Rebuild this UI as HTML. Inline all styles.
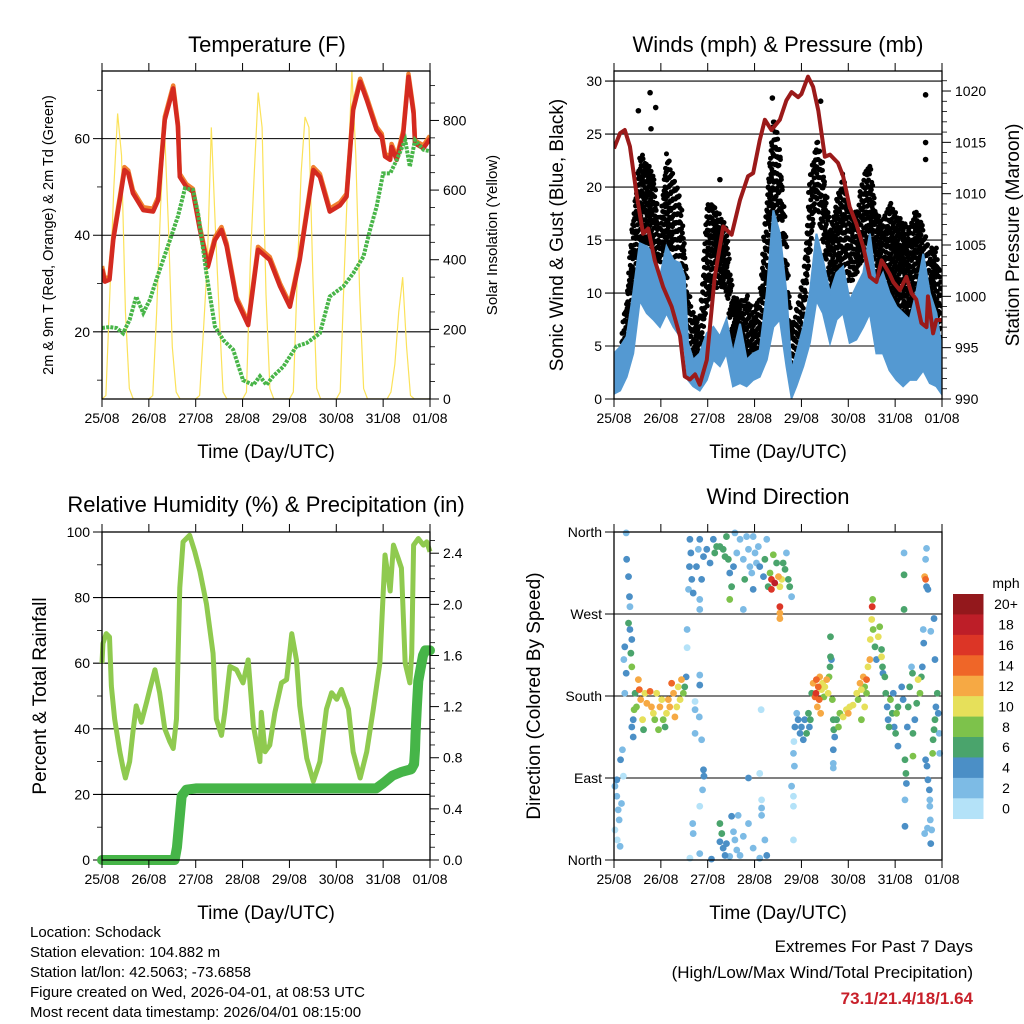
<!DOCTYPE html>
<html><head><meta charset="utf-8">
<style>
html,body{margin:0;padding:0;background:#fff;}
svg{display:block;font-family:"Liberation Sans",Arial,sans-serif;}
</style></head>
<body>
<svg id="chart" width="1024" height="1024" viewBox="0 0 1024 1024" xmlns="http://www.w3.org/2000/svg">
<rect x="0" y="0" width="1024" height="1024" fill="#fff"/>
<g id="layer"></g>
<text x="267" y="52" font-size="22" text-anchor="middle">Temperature (F)</text>
<text x="778" y="52" font-size="22" text-anchor="middle">Winds (mph) &amp; Pressure (mb)</text>
<text x="266" y="512" font-size="22" text-anchor="middle">Relative Humidity (%) &amp; Precipitation (in)</text>
<text x="778" y="504" font-size="22" text-anchor="middle">Wind Direction</text>
<text x="266" y="458" font-size="19" text-anchor="middle">Time (Day/UTC)</text>
<text x="778" y="458" font-size="19" text-anchor="middle">Time (Day/UTC)</text>
<text x="266" y="919" font-size="19" text-anchor="middle">Time (Day/UTC)</text>
<text x="778" y="919" font-size="19" text-anchor="middle">Time (Day/UTC)</text>
<text transform="translate(53,235) rotate(-90)" font-size="14.5" text-anchor="middle">2m &amp; 9m T (Red, Orange) &amp; 2m Td (Green)</text>
<text transform="translate(497,235) rotate(-90)" font-size="15" text-anchor="middle">Solar Insolation (Yellow)</text>
<text transform="translate(563,235) rotate(-90)" font-size="19" text-anchor="middle">Sonic Wind &amp; Gust (Blue, Black)</text>
<text transform="translate(1019,235) rotate(-90)" font-size="19" text-anchor="middle">Station Pressure (Maroon)</text>
<text transform="translate(46,696) rotate(-90)" font-size="19" text-anchor="middle">Percent &amp; Total Rainfall</text>
<text transform="translate(540,696) rotate(-90)" font-size="19" text-anchor="middle">Direction (Colored By Speed)</text>
<g font-size="15">
<text x="30" y="937">Location: Schodack</text>
<text x="30" y="957">Station elevation: 104.882 m</text>
<text x="30" y="977">Station lat/lon: 42.5063; -73.6858</text>
<text x="30" y="997">Figure created on Wed, 2026-04-01, at 08:53 UTC</text>
<text x="30" y="1017">Most recent data timestamp: 2026/04/01 08:15:00</text>
</g>
<g font-size="17" text-anchor="end">
<text x="973" y="952">Extremes For Past 7 Days</text>
<text x="973" y="978">(High/Low/Max Wind/Total Precipitation)</text>
<text x="973" y="1004" fill="#c8202a" font-weight="bold">73.1/21.4/18/1.64</text>
</g>
</svg>
<script>
// ---------- data ----------
const dayLabels = ["25/08","26/08","27/08","28/08","29/08","30/08","31/08","01/08"];
const tempT = [0,.06,.16,.24,.38,.48,.56,.66,.88,1.09,1.20,1.34,1.52,1.62,1.66,1.80,1.94,2.09,2.26,2.41,2.55,2.66,2.87,3.12,3.33,3.58,3.80,4.01,4.22,4.51,4.65,4.86,5.08,5.22,5.36,5.51,5.65,5.86,5.97,6.04,6.15,6.18,6.29,6.43,6.54,6.65,6.68,6.86,7.0];
const tempV = [33,30.4,30.8,39,47.3,53.5,52.8,48.7,45.2,44.9,47.3,63.9,70.4,62.5,52.1,50,49,41.1,33.5,39,41.1,37.7,26.6,21.4,37,34.9,29.4,25.2,34.9,53.5,52.1,44.9,46.2,48,65.9,71.8,68,61.8,60.4,56.3,55.6,58.3,55.6,61.1,72.8,65.2,59,58,60];
const dewT = [0,.16,.31,.45,.59,.73,.88,1.02,1.16,1.45,1.62,1.77,1.94,2.05,2.23,2.41,2.59,2.80,3.01,3.23,3.37,3.51,3.65,3.87,4.15,4.37,4.65,4.86,5.15,5.36,5.58,5.72,5.86,6.00,6.15,6.29,6.47,6.57,6.68,6.86,7];
const dewV = [20.8,21,20.8,19.7,22.5,27.3,23.9,26.6,30.8,39,43.9,49.7,49.4,44.6,32,21.1,18.3,16.3,10,9,10.8,9,10.8,12.8,17,17.7,19.7,27.3,29.4,32.1,35.6,41.1,45.9,52.8,52.8,55.6,59.7,54.2,59.7,57.7,57.4];
const solarV = [
0,10,300,600,820,700,250,30,0,0,0,0,
0,10,250,550,780,500,150,20,0,0,0,0,
0,10,200,400,780,500,250,20,0,0,0,0,
0,20,400,650,880,780,300,30,0,0,0,0,
0,20,350,650,810,780,350,30,0,0,0,0,
0,20,350,650,940,700,300,30,0,0,0,0,
0,0,20,100,250,350,150,10,0,0,0,0,0];
const windT = [0,.13,.27,.41,.55,.70,.84,.98,1.12,1.27,1.41,1.51,1.58,1.69,1.83,1.98,2.12,2.26,2.40,2.54,2.69,2.83,2.97,3.11,3.26,3.40,3.54,3.68,3.79,3.89,4.04,4.18,4.32,4.46,4.61,4.75,4.89,5.03,5.17,5.32,5.46,5.60,5.74,5.88,6.03,6.17,6.31,6.45,6.60,6.74,6.88,6.99];
const windHi = [4.3,4.9,5.9,10,14.7,14.4,13.7,11.5,14.4,13.1,12.8,11.5,5.3,3.7,4.3,6.2,6.8,5.9,7.5,4.3,7.1,3.7,4.3,4.6,10,17.8,15.6,10,2.7,4.3,6.8,10,15.6,13.1,10,11.9,12.5,9.3,10.6,11.9,15.6,10.6,11.9,10,8.7,8.1,7.5,10,13.7,10,8.1,4.9];
const windLo = [0.5,0.8,2.1,4.3,9.3,8.1,7.5,6.8,8.1,6.8,5.9,4.6,1.8,1.2,0.8,1.8,3.7,3.1,4.3,1.2,1.5,1.2,1.8,2.1,3.7,6.8,7.5,3.1,0.1,1.2,3.1,5.3,9.3,8.1,5.3,7.5,8.1,5.3,5.6,6.8,8.1,4.3,4.3,2.7,1.8,1.2,1.8,1.8,2.7,1.5,1.2,0.5];
const gustHi = [4,4.9,10,17.8,23.5,22.5,21.6,16.3,23.5,21.3,19.4,14.7,10.6,8.4,7.5,18.5,18.5,17.5,16.3,10,9.3,10,8.4,10,19.4,26.9,24.1,14.7,6.8,8.4,11.5,21,24.7,22.5,16.3,18.8,21.6,17.8,17.8,21,22.5,17.8,16.9,18.8,17.5,16.9,16.3,18.1,16.3,14.4,14.4,11.5];
const gustLo = [0.5,1.8,3.7,8.4,13.1,14.7,13.7,12.5,14.4,13.7,11.5,10,5.3,3.7,3.1,8.4,10,10.6,10,4.6,4.3,3.7,3.1,4.3,10,17.8,16.3,8.4,2.1,4.3,6.8,13.1,18.5,14.7,10,11.5,12.5,10.6,11.5,13.1,13.7,10,9.3,8.4,7.5,6.2,6.2,6.8,8.1,6.2,5.6,4.3];
const gustOutT = [.52,.77,.89,.79,6.65,6.65,6.65,2.26,3.38,4.41];
const gustOutV = [27.2,28.9,27.5,25.5,28.7,24.2,22.6,20.7,28.4,28.1];
const presT = [0,.13,.23,.34,.48,.62,.73,.87,1.05,1.23,1.41,1.51,1.62,1.73,1.83,1.98,2.15,2.33,2.51,2.69,2.86,2.97,3.11,3.22,3.36,3.54,3.68,3.79,3.93,4.00,4.14,4.25,4.36,4.50,4.61,4.78,4.89,5.03,5.17,5.32,5.46,5.60,5.71,5.88,5.96,6.10,6.24,6.35,6.45,6.56,6.67,6.70,6.81,6.88,6.99];
const presV = [1014.4,1015.9,1016.2,1014.6,1010,1006.1,1006.6,1003.5,1000.9,999,996.1,992.2,991.9,992.4,991.4,993.8,1001.9,1006.8,1006,1009.4,1011.7,1012,1015.2,1017.2,1016.2,1017.2,1019.1,1019.9,1019.4,1019.7,1021.4,1020.4,1018.1,1013.6,1013.8,1013,1011.7,1008.7,1007.1,1004.8,1001.9,1001.4,1003.5,1002.2,1001.4,1000.6,1001.9,1000.3,999.7,997.4,997,1000,996.4,997.7,997.7];
const rhT = [0,.02,.09,.16,.20,.27,.38,.45,.50,.59,.66,.73,.84,.95,1.02,1.13,1.23,1.34,1.45,1.52,1.59,1.66,1.73,1.87,1.98,2.09,2.23,2.37,2.44,2.55,2.62,2.73,2.87,3.01,3.12,3.23,3.37,3.40,3.48,3.58,3.69,3.83,3.94,4.05,4.15,4.22,4.37,4.51,4.65,4.79,4.90,5.01,5.11,5.26,5.36,5.51,5.65,5.79,5.93,6.04,6.15,6.22,6.32,6.39,6.47,6.57,6.61,6.65,6.75,6.86,6.93,7.00];
const rhV = [60,66,69,68,53,43,33,28,25,30,39,47,42,48,52,58,51,40,36,34,43,83,97,99,94,88,78,63,43,38,45,59,58,54,61,41,30,45,33,35,45,54,55,69,61,47,31,24,30,46,51,49,52,46,33,25,33,46,60,93,82,96,92,89,60,54,63,96,98,96,97,94];
const rainT = [0,1.55,1.6,1.65,1.7,1.8,2.0,5.85,6.0,6.2,6.4,6.6,6.66,6.68,6.69,6.7,6.72,6.75,6.8,6.85,6.9,7.0];
const rainV = [0,0,0.1,0.3,0.5,0.55,0.56,0.56,0.6,0.66,0.69,0.71,0.75,0.86,0.97,1.05,1.2,1.4,1.5,1.6,1.64,1.64];
const dirT = [.02,.06,.09,.02,.07,.13,.11,.16,.06,.14,.18,.20,
.26,.27,.31,.33,.34,.31,.34,.23,.21,.26,.38,.36,.38,.23,
.45,.48,.52,.54,.57,.61,.66,.70,.77,.80,.84,.87,.91,.95,.98,1.02,1.05,1.09,1.12,1.16,1.19,1.23,1.27,1.30,1.34,1.37,1.41,1.44,1.48,1.51,1.54,.41,.41,.38,.43,.63,
1.56,1.56,1.73,1.73,1.83,1.83,1.82,1.73,1.87,1.91,1.92,1.89,1.83,1.68,1.69,1.62,1.83,2.08,
1.62,1.64,1.61,1.66,1.59,1.69,1.76,1.80,1.83,1.87,1.83,1.91,1.98,2.05,2.12,2.15,2.19,2.26,2.33,2.37,2.40,2.44,2.47,2.51,2.47,2.55,2.58,2.62,2.69,2.76,2.79,2.83,2.87,2.90,2.94,2.97,3.01,3.04,3.08,3.11,3.19,3.22,3.26,3.29,3.33,3.36,3.40,3.43,3.47,3.51,3.54,3.58,3.61,3.65,3.68,3.72,3.75,3.79,3.36,3.54,3.54,3.54,2.76,1.83,2.97,
2.26,2.30,2.26,2.33,2.37,2.40,2.47,2.51,2.55,2.58,2.62,2.65,2.69,2.76,2.87,2.97,3.11,3.22,3.26,3.15,3.15,3.15,3.11,2.87,3.14,
3.79,3.83,3.83,3.83,3.85,3.83,3.84,3.86,3.90,3.93,3.97,4.00,4.04,4.07,4.11,4.15,4.17,4.19,4.22,
4.25,4.29,4.31,4.32,4.34,4.36,4.38,4.39,4.41,4.43,4.45,4.48,4.50,4.54,4.57,4.59,4.61,4.64,4.62,4.62,4.66,4.68,
4.69,4.71,4.68,4.68,4.68,4.75,4.79,4.82,4.89,4.96,5.00,5.03,5.10,5.18,5.21,5.25,5.28,5.32,5.35,5.39,5.42,5.46,5.39,5.35,5.28,
5.47,5.50,5.51,5.52,5.53,5.57,5.60,5.64,5.67,5.71,5.73,5.74,5.78,5.71,
5.80,5.83,5.85,5.87,5.90,5.94,5.96,5.98,6.01,6.03,6.06,6.06,6.14,6.17,
6.19,6.19,6.19,6.21,6.23,6.24,6.21,6.21,6.26,6.28,6.31,6.35,6.37,6.38,6.42,6.38,6.46,6.49,6.53,6.56,6.58,6.60,6.61,6.63,6.65,6.67,6.65,6.67,6.70,6.65,6.68,6.70,6.73,6.74,6.74,6.75,6.78,6.76,6.80,6.81,6.83,6.85,6.87,6.90,6.92,6.94,6.95,6.85,6.83,6.76,6.63,6.69];
const dirD = [81,70,55,33,22,15,44,62,88,110,121,92,
359,330,311,289,278,260,253,234,220,205,242,227,212,183,
183,168,198,187,176,154,183,172,185,168,161,154,183,143,168,176,154,146,161,176,168,194,183,157,168,190,176,198,183,190,201,154,135,146,165,143,
253,233,174,165,203,192,157,139,132,99,92,77,59,40,29,2,7,1,
352,337,322,308,297,293,322,341,352,308,286,333,341,326,352,337,344,344,341,333,355,330,315,300,286,322,359,337,352,330,308,355,341,322,315,355,337,326,344,322,311,330,352,300,315,308,335,304,326,311,300,308,326,319,337,308,300,289,297,278,271,265,275,275,297,
40,29,20,13,5,18,4,48,31,22,11,49,5,26,40,13,2,22,5,66,57,49,95,90,165,
81,70,59,22,103,117,130,146,161,154,139,146,132,154,139,161,146,154,183,
194,179,183,198,168,190,176,201,161,187,194,179,190,198,183,201,212,220,223,245,176,154,
143,135,121,106,101,154,146,161,157,165,161,168,170,183,176,194,187,201,190,198,212,220,183,168,154,
242,264,278,286,253,234,220,245,256,231,212,205,201,223,
183,168,154,146,176,161,183,146,139,161,125,168,190,176,
337,313,275,110,95,84,66,37,146,168,190,212,205,139,154,114,172,198,183,201,212,253,238,311,308,342,330,300,297,110,103,88,77,66,59,44,33,18,117,132,143,154,168,183,161,139,117,220,265,251,29,35];
const dirS = [3,3,2,1,1,2,3,3,4,4,3,1,
2,4,4,4,3,6,5,4,3,4,4,6,8,3,
6,9,13,15,12,10,11,13,15,12,11,9,10,8,12,11,9,7,10,12,13,15,12,13,11,11,10,12,9,7,5,5,4,5,8,7,
3,1,1,3,3,4,3,2,2,4,5,2,1,3,3,1,2,4,
4,5,5,4,3,4,5,3,4,4,2,4,5,5,4,7,6,7,7,6,6,7,5,7,8,4,3,3,3,3,6,2,3,3,3,3,3,3,3,4,5,7,3,6,9,16,8,18,7,13,11,10,7,6,3,6,7,3,16,16,13,13,2,2,4,
7,6,4,5,4,5,3,4,3,3,2,2,2,2,2,2,3,3,4,1,2,2,1,4,1,
2,1,1,1,2,3,1,4,3,5,5,4,5,5,6,6,5,6,7,
12,14,16,15,13,14,15,13,12,11,10,9,11,12,10,8,6,4,6,6,8,7,
6,5,4,3,3,7,8,9,10,11,12,10,11,10,9,12,10,13,9,14,11,12,8,10,8,
11,10,16,9,8,7,5,10,8,7,6,5,7,11,
6,5,4,6,8,7,5,5,7,8,4,6,4,5,
3,6,6,6,6,5,2,4,5,7,6,3,6,6,5,8,6,10,8,7,4,3,4,13,14,3,3,4,4,4,4,4,4,3,3,3,3,4,8,7,6,6,5,6,4,2,2,4,4,3,2,2];
const speedBinColors = ["#b4e2f8","#7dbbe5","#4b8fc6","#4aa46c","#7dc24b","#e6e05a","#f6a944","#ef6628","#dc3526","#bd1e28","#93181c"];
const speedBinLabels = ["0","2","4","6","8","10","12","14","16","18","20+"];

// ---------- helpers ----------
const NS = "http://www.w3.org/2000/svg";
const layer = document.getElementById("layer");
function mk(tag, attrs, parent) {
  const e = document.createElementNS(NS, tag);
  for (const k in attrs) e.setAttribute(k, attrs[k]);
  (parent || layer).appendChild(e);
  return e;
}
function txt(x, y, s, size, anchor, parent) {
  const t = mk("text", {x: x, y: y, "font-size": size, "text-anchor": anchor || "middle"}, parent);
  t.textContent = s;
  return t;
}
const W = 328, H = 328;
function xScale(x0) { return d => x0 + d * W / 7; }
function yScale(y0, lo, hi) { return v => y0 + H - (v - lo) / (hi - lo) * H; }
function pathFrom(ts, vs, xs, ys) {
  let p = "";
  for (let i = 0; i < ts.length; i++) p += (i ? "L" : "M") + xs(ts[i]).toFixed(2) + "," + ys(vs[i]).toFixed(2);
  return p;
}
function frame(x0, y0, name) {
  const g = mk("g", {});
  
  
  mk("rect", {x: x0, y: y0, width: W, height: H, fill: "none", stroke: "#000", "stroke-width": 1.3}, g);
  const xs = xScale(x0);
  for (let i = 0; i < dayLabels.length; i++) {
    const x = xs(i);
    mk("line", {x1: x, y1: y0 - 8, x2: x, y2: y0, stroke: "#000", "stroke-width": 1}, g);
    mk("line", {x1: x, y1: y0 + H, x2: x, y2: y0 + H + 8, stroke: "#000", "stroke-width": 1}, g);
    const t = txt(x, y0 + H + 24, dayLabels[i], 14, "middle", g);
    
    
  }
  return g;
}
function leftAxis(x0, ys, ticks, labels, minor, grid, name) {
  const g = mk("g", {});
  
  
  ticks.forEach((v, i) => {
    const y = ys(v);
    if (grid) mk("line", {x1: x0 - 9, y1: y, x2: x0 + W, y2: y, stroke: "#000", "stroke-width": 1.1}, g);
    else mk("line", {x1: x0 - 9, y1: y, x2: x0, y2: y, stroke: "#000", "stroke-width": 1}, g);
    txt(x0 - 12, y + 5, labels[i], 14, "end", g);
  });
  minor.forEach(v => { const y = ys(v); mk("line", {x1: x0 - 5, y1: y, x2: x0, y2: y, stroke: "#000", "stroke-width": 0.8}, g); });
}
function rightAxis(x1, ys, ticks, labels, minor, name) {
  const g = mk("g", {});
  
  
  ticks.forEach((v, i) => {
    const y = ys(v);
    mk("line", {x1: x1, y1: y, x2: x1 + 9, y2: y, stroke: "#000", "stroke-width": 1}, g);
    txt(x1 + 13, y + 5, labels[i], 14, "start", g);
  });
  minor.forEach(v => { const y = ys(v); mk("line", {x1: x1, y1: y, x2: x1 + 5, y2: y, stroke: "#000", "stroke-width": 0.8}, g); });
}
function clip(id, x0, y0) {
  let defs = document.getElementById("defs");
  if (!defs) { defs = mk("defs", {id: "defs"}); }
  const c = mk("clipPath", {id: id}, defs);
  mk("rect", {x: x0, y: y0, width: W, height: H}, c);
}

// ---------- Panel 1: temperature ----------
(function () {
  const x0 = 102, y0 = 71;
  clip("c1", x0, y0);
  const xs = xScale(x0), ys = yScale(y0, 6.1, 74), ysol = yScale(y0, 0, 942);
  leftAxis(x0, ys, [20, 40, 60], ["20", "40", "60"], [10, 30, 50, 70], true, "temp-y-axis");
  rightAxis(x0 + W, ysol, [0, 200, 400, 600, 800], ["0", "200", "400", "600", "800"], [50,100,150,250,300,350,450,500,550,650,700,750,850,900], "solar-y-axis");
  const solT = solarV.map((v, i) => i / 12);
  const s = mk("path", {d: pathFrom(solT, solarV, xs, ysol), fill: "none", stroke: "#fbe25a", "stroke-width": 1.2, "clip-path": "url(#c1)"});
  
  
  const o = mk("path", {d: pathFrom(tempT, tempV.map(v => v + 0.6), xs, ys), fill: "none", stroke: "#f08030", "stroke-width": 4.5, "stroke-linejoin": "round", "clip-path": "url(#c1)"});
  
  
  const r = mk("path", {d: pathFrom(tempT, tempV, xs, ys), fill: "none", stroke: "#d42a20", "stroke-width": 4.5, "stroke-linejoin": "round", "clip-path": "url(#c1)"});
  
  
  const d = mk("path", {d: pathFrom(dewT, dewV, xs, ys), fill: "none", stroke: "#48b548", "stroke-width": 4, "stroke-dasharray": "3 1.2", "clip-path": "url(#c1)"});
  
  
  frame(x0, y0, "temperature");
})();

// ---------- Panel 2: winds & pressure ----------
(function () {
  const x0 = 614, y0 = 71;
  clip("c2", x0, y0);
  const xs = xScale(x0), ys = yScale(y0, 0, 30.95), yp = yScale(y0, 990, 1021.95);
  leftAxis(x0, ys, [0, 5, 10, 15, 20, 25, 30], ["0", "5", "10", "15", "20", "25", "30"], [], true, "wind-y-axis");
  rightAxis(x0 + W, yp, [990, 995, 1000, 1005, 1010, 1015, 1020], ["990", "995", "1000", "1005", "1010", "1015", "1020"], [991,992,993,994,996,997,998,999,1001,1002,1003,1004,1006,1007,1008,1009,1011,1012,1013,1014,1016,1017,1018,1019,1021], "pressure-y-axis");
  const interp = (arr, t) => {
    for (let i = 1; i < windT.length; i++) if (t <= windT[i]) { const f = (t - windT[i-1]) / (windT[i] - windT[i-1]); return arr[i-1] + f * (arr[i] - arr[i-1]); }
    return arr[arr.length - 1];
  };
  const gg = mk("g", {"clip-path": "url(#c2)", fill: "#000"});
  
  
  let k = 0;
  for (let t = 0; t <= 6.99; t += 0.02) {
    const lo = interp(gustLo, t), hi = interp(gustHi, t);
    const n = Math.max(1, Math.round((hi - lo) / 1.1));
    for (let j = 0; j < n; j++) {
      const f = (j + 0.5 + 0.35 * (((k * 7 + j * 3) % 5) - 2) / 2) / n;
      mk("circle", {cx: xs(t + 0.008 * ((j % 3) - 1)), cy: ys(lo + f * (hi - lo)), r: 2.5}, gg);
    }
    k++;
  }
  gustOutT.forEach((t, i) => mk("circle", {cx: xs(t), cy: ys(gustOutV[i]), r: 2.8}, gg));
  let p = "";
  windT.forEach((t, i) => { p += (i ? "L" : "M") + xs(t).toFixed(2) + "," + ys(windHi[i]).toFixed(2); });
  for (let i = windT.length - 1; i >= 0; i--) p += "L" + xs(windT[i]).toFixed(2) + "," + ys(windLo[i]).toFixed(2);
  const b = mk("path", {d: p + "Z", fill: "#5499d2", stroke: "#5499d2", "stroke-width": 2, "clip-path": "url(#c2)"});
  
  
  const pr = mk("path", {d: pathFrom(presT, presV, xs, yp), fill: "none", stroke: "#9b1a1a", "stroke-width": 4, "stroke-linejoin": "round", "clip-path": "url(#c2)"});
  
  
  frame(x0, y0, "winds");
})();

// ---------- Panel 3: RH & precipitation ----------
(function () {
  const x0 = 102, y0 = 532;
  clip("c3", x0 - 6, y0 - 6);
  const xs = xScale(x0), ys = yScale(y0, 0, 100), yr = yScale(y0, 0, 2.566);
  leftAxis(x0, ys, [0, 20, 40, 60, 80, 100], ["0", "20", "40", "60", "80", "100"], [10, 30, 50, 70, 90], true, "rh-y-axis");
  rightAxis(x0 + W, yr, [0, 0.4, 0.8, 1.2, 1.6, 2.0, 2.4], ["0.0", "0.4", "0.8", "1.2", "1.6", "2.0", "2.4"], [0.1,0.2,0.3,0.5,0.6,0.7,0.9,1.0,1.1,1.3,1.4,1.5,1.7,1.8,1.9,2.1,2.2,2.3,2.5], "rain-y-axis");
  const h = mk("path", {d: pathFrom(rhT, rhV, xs, ys), fill: "none", stroke: "#8fca4f", "stroke-width": 5, "stroke-linejoin": "round"});
  
  
  const r = mk("path", {d: pathFrom(rainT, rainV, xs, yr), fill: "none", stroke: "#46b548", "stroke-width": 10, "stroke-linejoin": "round", "stroke-linecap": "round"});
  
  
  frame(x0, y0, "humidity");
})();

// ---------- Panel 4: wind direction ----------
(function () {
  const x0 = 614, y0 = 532;
  const xs = xScale(x0), ys = yScale(y0, 0, 360);
  leftAxis(x0, ys, [0, 90, 180, 270, 360], ["North", "East", "South", "West", "North"], [], true, "direction-y-axis");
  const g = mk("g", {});
  
  
  const order = dirT.map((t, i) => i).sort((a, b) => dirS[a] - dirS[b]);
  order.forEach(i => {
    const bin = Math.min(10, Math.floor(dirS[i] / 2));
    mk("circle", {cx: xs(dirT[i]), cy: ys(dirD[i]), r: 3.4, fill: speedBinColors[bin]}, g);
  });
  frame(x0, y0, "wind-direction");
  const cb = mk("g", {});
  
  
  const top = 594, bh = 20.43;
  for (let i = 0; i < 11; i++) {
    const idx = 10 - i;
    mk("rect", {x: 953, y: top + i * bh, width: 30.5, height: bh + 0.3, fill: speedBinColors[idx]}, cb);
    txt(1006, top + i * bh + bh / 2 + 5, speedBinLabels[idx], 14, "middle", cb);
  }
  txt(1006, 588, "mph", 14, "middle", cb);
})();
</script>
</body></html>
